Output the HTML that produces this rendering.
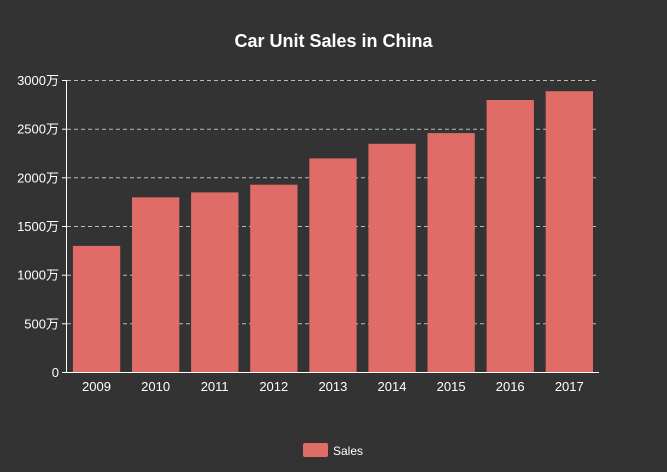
<!DOCTYPE html>
<html><head><meta charset="utf-8"><style>
html,body{margin:0;padding:0;background:#333333;}
svg{display:block;font-family:"Liberation Sans","Noto Sans CJK SC",sans-serif;}
</style></head><body>
<svg width="667" height="472" viewBox="0 0 667 472">
<rect width="667" height="472" fill="#333333"/>
<text x="333.5" y="47" text-anchor="middle" fill="#fff" font-size="18" font-weight="bold">Car Unit Sales in China</text>
<g stroke="#bbb" stroke-dasharray="4,3" stroke-width="1">
<line x1="67" x2="599" y1="80.5" y2="80.5"/>
<line x1="67" x2="599" y1="129.2" y2="129.2"/>
<line x1="67" x2="599" y1="177.8" y2="177.8"/>
<line x1="67" x2="599" y1="226.5" y2="226.5"/>
<line x1="67" x2="599" y1="275.2" y2="275.2"/>
<line x1="67" x2="599" y1="323.8" y2="323.8"/>
</g>
<g fill="#e06c67">
<rect x="72.9" y="245.9" width="47.3" height="126.6"/>
<rect x="132" y="197.3" width="47.3" height="175.2"/>
<rect x="191.1" y="192.4" width="47.3" height="180.1"/>
<rect x="250.2" y="184.7" width="47.3" height="187.8"/>
<rect x="309.3" y="158.4" width="47.3" height="214.1"/>
<rect x="368.4" y="143.8" width="47.3" height="228.7"/>
<rect x="427.5" y="133.1" width="47.3" height="239.4"/>
<rect x="486.6" y="100" width="47.3" height="272.5"/>
<rect x="545.7" y="91.2" width="47.3" height="281.3"/>
</g>
<g stroke="#fff" stroke-width="1">
<line x1="66.5" x2="66.5" y1="80" y2="373"/>
<line x1="66" x2="599" y1="372.5" y2="372.5"/>
<line x1="62" x2="67" y1="80.5" y2="80.5"/>
<line x1="62" x2="67" y1="129.2" y2="129.2"/>
<line x1="62" x2="67" y1="177.8" y2="177.8"/>
<line x1="62" x2="67" y1="226.5" y2="226.5"/>
<line x1="62" x2="67" y1="275.2" y2="275.2"/>
<line x1="62" x2="67" y1="323.8" y2="323.8"/>
<line x1="62" x2="67" y1="372.5" y2="372.5"/>
</g>
<g fill="#fff" font-size="13" text-anchor="end">
<text x="59" y="85">3000万</text>
<text x="59" y="133.7">2500万</text>
<text x="59" y="182.3">2000万</text>
<text x="59" y="231">1500万</text>
<text x="59" y="279.7">1000万</text>
<text x="59" y="328.3">500万</text>
<text x="59" y="377">0</text>
</g>
<g fill="#fff" font-size="13" text-anchor="middle">
<text x="96.5" y="391">2009</text>
<text x="155.6" y="391">2010</text>
<text x="214.7" y="391">2011</text>
<text x="273.8" y="391">2012</text>
<text x="332.9" y="391">2013</text>
<text x="392" y="391">2014</text>
<text x="451.1" y="391">2015</text>
<text x="510.2" y="391">2016</text>
<text x="569.3" y="391">2017</text>
</g>
<rect x="303" y="443" width="25" height="14" rx="2" fill="#e06c67"/>
<text x="333" y="455" fill="#fff" font-size="12">Sales</text>
</svg>
</body></html>
